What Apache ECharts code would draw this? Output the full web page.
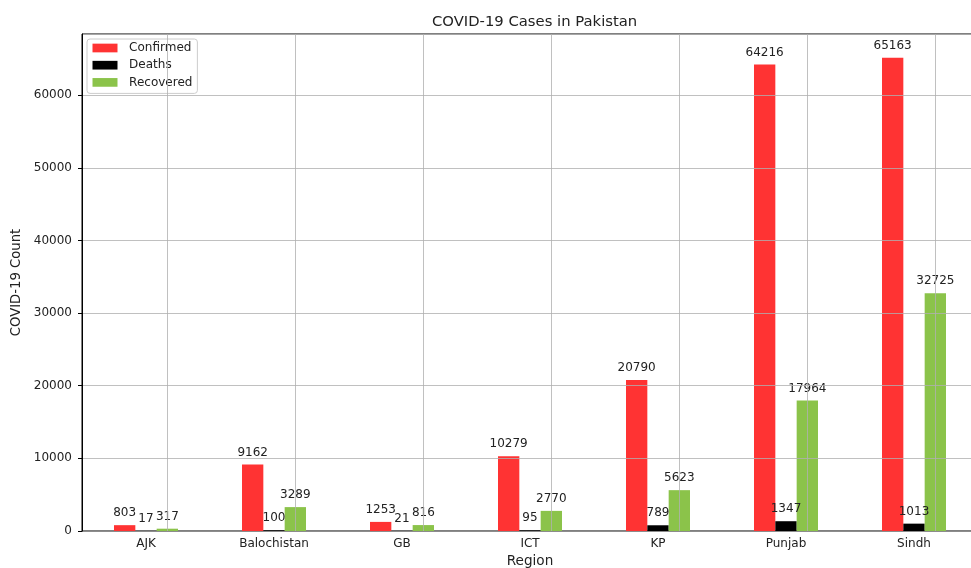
<!DOCTYPE html>
<html>
<head>
<meta charset="utf-8">
<script src="https://cdn.jsdelivr.net/npm/echarts@6/dist/echarts.min.js"></script>
<style>html,body{margin:0;padding:0;background:#fff}#c{width:971px;height:568px}</style>
</head>
<body>
<div id="c"></div>
<script>
const categories = ['AJK', 'Balochistan', 'GB', 'ICT', 'KP', 'Punjab', 'Sindh'];
const confirmed = [803, 9162, 1253, 10279, 20790, 64216, 65163];
const deaths = [17, 100, 21, 95, 789, 1347, 1013];
const recovered = [317, 3289, 816, 2770, 5623, 17964, 32725];
const yMax = 68421;
const yInterval = 10000;

const FONT = 'DejaVu Sans';
const TXT = '#222';
const chart = echarts.init(document.getElementById('c'), null, {renderer: 'canvas'});

function barSeries(name, data, color, extra) {
  return Object.assign({
    name: name,
    type: 'bar',
    data: data,
    barWidth: 21.33,
    barGap: '0%',
    itemStyle: {color: color},
    label: {show: true, position: 'top', distance: 6, color: TXT, fontFamily: FONT, fontSize: 12}
  }, extra || {});
}

chart.setOption({
  animation: false,
  textStyle: {fontFamily: FONT},
  title: {
    text: 'COVID-19 Cases in Pakistan',
    left: 427, top: 10,
    textStyle: {fontFamily: FONT, fontSize: 14.8, fontWeight: 'normal', color: TXT}
  },
  legend: {
    orient: 'vertical',
    left: 87, top: 39,
    padding: [3, 5, 5, 5.5],
    itemWidth: 25, itemHeight: 8.7, itemGap: 5.2,
    icon: 'rect',
    backgroundColor: 'rgba(255,255,255,0.85)',
    borderColor: '#cccccc', borderWidth: 1, borderRadius: 3,
    textStyle: {fontFamily: FONT, fontSize: 12, color: TXT, lineHeight: 12, padding: [0, 0, 0, 6.6]},
    data: ['Confirmed', 'Deaths', 'Recovered']
  },
  grid: {left: 82, top: 34, bottom: 37, right: -7, containLabel: false, outerBoundsMode: 'none',
         show: true, borderColor: '#000', borderWidth: 1, backgroundColor: 'transparent'},
  xAxis: {
    type: 'category',
    data: categories,
    name: 'Region', nameLocation: 'middle', nameGap: 23,
    nameTextStyle: {fontFamily: FONT, fontSize: 13.6, color: TXT},
    axisLine: {lineStyle: {color: '#000', width: 1}},
    axisTick: {alignWithLabel: true, length: 4, lineStyle: {color: '#000'}},
    axisLabel: {fontFamily: FONT, fontSize: 12, color: TXT, margin: 7},
    splitLine: {show: false}
  },
  yAxis: {
    type: 'value',
    min: 0, max: yMax, interval: yInterval,
    z: 3,
    name: 'COVID-19 Count', nameLocation: 'middle', nameGap: 56.5,
    nameTextStyle: {fontFamily: FONT, fontSize: 13.2, color: TXT},
    axisLine: {show: true, lineStyle: {color: '#000', width: 1}},
    axisTick: {show: true, length: 4, lineStyle: {color: '#000'}},
    axisLabel: {fontFamily: FONT, fontSize: 12, color: TXT, margin: 10, showMaxLabel: false,
                formatter: v => String(v)},
    splitLine: {show: true, lineStyle: {color: '#b0b0b0', width: 0.8}}
  },
  series: [
    barSeries('Confirmed', confirmed, '#FF3333'),
    barSeries('Deaths', deaths, '#000000'),
    barSeries('Recovered', recovered, '#8BC34A', {
      markLine: {
        silent: true, symbol: ['none', 'none'], label: {show: false},
        lineStyle: {color: '#b0b0b0', width: 0.8, type: 'solid'},
        data: categories.map(c => ({xAxis: c}))
      }
    })
  ]
});
</script>
</body>
</html>
